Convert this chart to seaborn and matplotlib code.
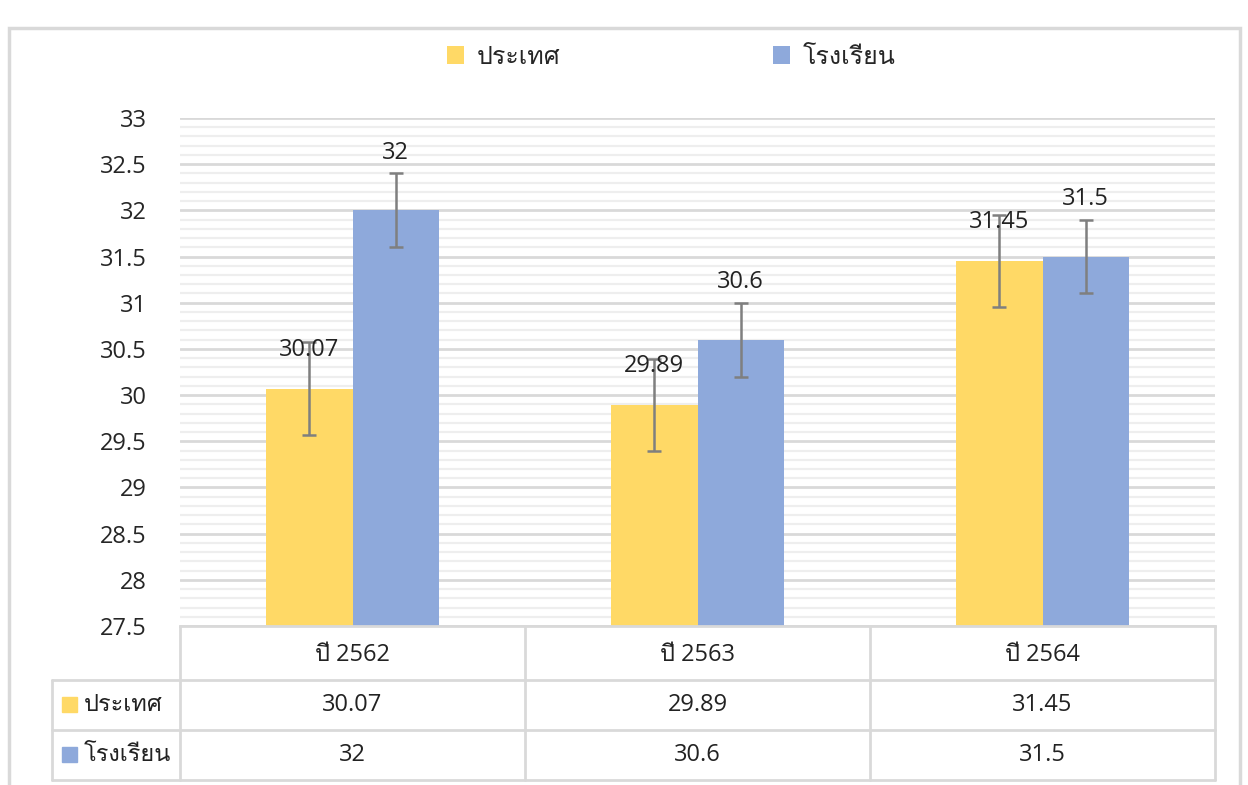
import numpy as np
import pandas as pd
import seaborn as sns
import matplotlib
matplotlib.use("Agg")
import matplotlib.pyplot as plt
from matplotlib import font_manager as fm
from matplotlib.ft2font import FT2Font
from matplotlib.lines import Line2D
from matplotlib.patches import Rectangle

# data
years = ["ปี 2562", "ปี 2563", "ปี 2564"]
series_names = ["ประเทศ", "โรงเรียน"]
country = [30.07, 29.89, 31.45]
school = [32, 30.6, 31.5]
err_country = [0.5, 0.5, 0.5]
err_school = [0.4, 0.4, 0.4]
country_lbl = ["30.07", "29.89", "31.45"]
school_lbl = ["32", "30.6", "31.5"]

yellow = "#FFD966"
blue = "#8EA9DB"
grid_c = "#d9d9d9"

# find some font that has thai glyphs
thai_font = None
for f in fm.fontManager.ttflist:
    try:
        if FT2Font(f.fname).get_char_index(0x0E1B):
            thai_font = f.name
            break
    except Exception:
        pass

sns.set_theme(style="white")
fams = ["Open Sans"]
if thai_font:
    fams.append(thai_font)
fams.append("DejaVu Sans")
plt.rcParams["font.family"] = fams

W, H = 1248, 785
fig = plt.figure(figsize=(W / 100, H / 100), dpi=100)


def px(x, y):
    return x / W, 1 - y / H


ax = fig.add_axes([180 / W, 1 - 626 / H, (1215 - 180) / W, (626 - 118) / H])

df = pd.DataFrame({
    "year": years * 2,
    "series": [series_names[0]] * 3 + [series_names[1]] * 3,
    "value": country + school,
})
sns.barplot(data=df, x="year", y="value", hue="series",
            palette=[yellow, blue], width=0.5, errorbar=None,
            saturation=1, linewidth=0, ax=ax, legend=True)

ax.set_ylim(27.5, 33)
ax.set_xlim(-0.5, 2.5)
ax.set_yticks(np.arange(27.5, 33.01, 0.5))
ax.set_yticklabels([f"{v:g}" for v in np.arange(27.5, 33.01, 0.5)], fontsize=17)
ax.set_yticks(np.arange(27.5, 33.01, 0.1), minor=True)
ax.tick_params(axis="y", which="both", length=0, pad=24)
ax.set_xticks([])
ax.set_xlabel("")
ax.set_ylabel("")
ax.grid(axis="y", which="major", color=grid_c, lw=2, zorder=0)
ax.grid(axis="y", which="minor", color="#eeeeee", lw=1.6, zorder=0)
ax.set_axisbelow(True)
for s in ["left", "right", "top"]:
    ax.spines[s].set_visible(False)
ax.spines["bottom"].set_color(grid_c)
ax.spines["bottom"].set_linewidth(2)

# error bars + data labels, use bar positions from seaborn
bars = ax.patches[:6]
handles, labels = ax.get_legend_handles_labels()
ax.get_legend().remove()
vals = [country, school]
errs = [err_country, err_school]
lbls = [country_lbl, school_lbl]
offs = [0.42, 0.62]
for k in range(2):
    xs = [b.get_x() + b.get_width() / 2 for b in bars[k * 3:(k + 1) * 3]]
    ax.errorbar(xs, vals[k], yerr=errs[k], fmt="none", ecolor="#7f7f7f",
                elinewidth=1.8, capsize=5, capthick=1.8, zorder=5)
    for x, v, t in zip(xs, vals[k], lbls[k]):
        ax.text(x, v + offs[k], t, ha="center", va="center", fontsize=17,
                color="#222222", zorder=6)

# top legend
fig.legend(handles, labels, loc="center", bbox_to_anchor=px(671, 57),
           ncol=2, frameon=False, fontsize=18, handlelength=0.7,
           handleheight=0.7, handletextpad=0.5, columnspacing=8.5)

# data table under the chart
def hline(x0, x1, y):
    a, b = px(x0, y)
    c, _ = px(x1, y)
    fig.add_artist(Line2D([a, c], [b, b], color=grid_c, lw=2, transform=fig.transFigure))


def vline(x, y0, y1):
    a, b = px(x, y0)
    _, d = px(x, y1)
    fig.add_artist(Line2D([a, a], [b, d], color=grid_c, lw=2, transform=fig.transFigure))


for y in [680, 730, 780]:
    hline(52, 1215, y)
for x in [180, 525, 870, 1215]:
    vline(x, 626, 780)
vline(52, 680, 780)

col_c = [352.5, 697.5, 1042.5]
for x, t in zip(col_c, years):
    fig.text(*px(x, 655), t, ha="center", va="center", fontsize=17, color="#222222")
row_y = [705, 755]
for k in range(2):
    for x, v in zip(col_c, lbls[k]):
        fig.text(*px(x, row_y[k]), v, ha="center", va="center", fontsize=17, color="#222222")
    fig.add_artist(Rectangle(px(62, row_y[k] + 7), 15 / W, 15 / H,
                             color=[yellow, blue][k], transform=fig.transFigure))
    fig.text(*px(84, row_y[k]), series_names[k], ha="left", va="center",
             fontsize=17, color="#222222")

# outer chart frame
fig.add_artist(Rectangle(px(9, 800), 1231 / W, 772 / H, fill=False,
                         edgecolor="#d9d9d9", lw=2.5, transform=fig.transFigure))

fig.savefig("out.png", dpi=100)
